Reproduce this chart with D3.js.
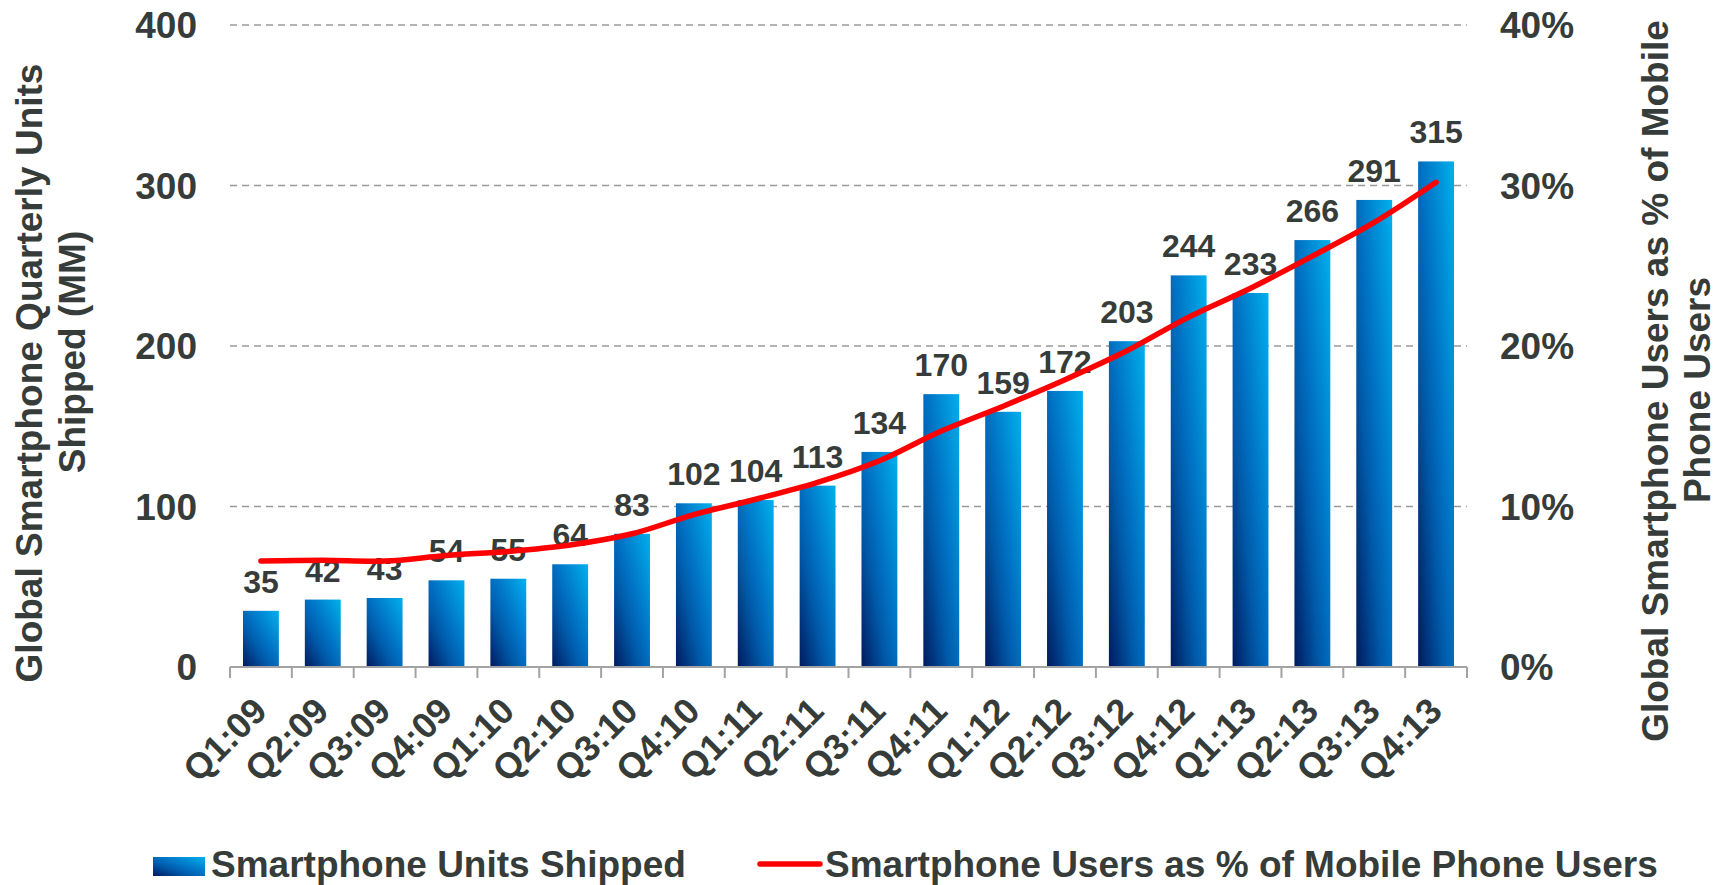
<!DOCTYPE html>
<meta charset="utf-8">
<style>
  body { margin: 0; background: #fff; }
  svg text { font-family: "Liberation Sans", Arial, sans-serif; font-weight: bold; fill: #363c39; }
</style>
<body>
  <svg width="1725" height="885"></svg>
</body>
<script src="https://cdnjs.cloudflare.com/ajax/libs/d3/7.8.5/d3.min.js"></script>
<script>

  // data
  var quarters = ["Q1:09", "Q2:09", "Q3:09", "Q4:09", "Q1:10", "Q2:10", "Q3:10", "Q4:10",
                  "Q1:11", "Q2:11", "Q3:11", "Q4:11", "Q1:12", "Q2:12", "Q3:12", "Q4:12",
                  "Q1:13", "Q2:13", "Q3:13", "Q4:13"];
  var unitsShipped = [35, 42, 43, 54, 55, 64, 83, 102, 104, 113, 134, 170, 159, 172, 203, 244, 233, 266, 291, 315];
  var userShare = [6.6, 6.65, 6.6, 6.95, 7.2, 7.6, 8.3, 9.5, 10.45, 11.5, 12.85, 14.7, 16.25, 17.9, 19.7, 21.8, 23.6, 25.6, 27.7, 30.2];
  var leftTicks = [0, 100, 200, 300, 400];
  var rightTicks = [0, 10, 20, 30, 40];

  var svg = d3.select("svg"),
      width = +svg.attr("width"),
      height = +svg.attr("height");

  var plot = { left: 230, right: 1467, top: 25, bottom: 667 };

  var x = d3.scaleBand()
      .domain(quarters)
      .range([plot.left, plot.right])
      .paddingInner(0.42)
      .paddingOuter(0.21);

  var y = d3.scaleLinear().domain([0, 400]).range([plot.bottom, plot.top]);
  var y2 = d3.scaleLinear().domain([0, 40]).range([plot.bottom, plot.top]);

  // diagonal gradient for the bars
  var defs = svg.append("defs");
  var grad = defs.append("linearGradient")
      .attr("id", "barGrad")
      .attr("x1", 0).attr("y1", 1)
      .attr("x2", 1).attr("y2", 0);
  grad.append("stop").attr("offset", "0%").attr("stop-color", "#001a5e");
  grad.append("stop").attr("offset", "35%").attr("stop-color", "#0059a8");
  grad.append("stop").attr("offset", "55%").attr("stop-color", "#0072c4");
  grad.append("stop").attr("offset", "100%").attr("stop-color", "#00b0ee");

  // gridlines
  svg.append("g")
    .selectAll("line")
    .data(leftTicks.filter(d => d > 0))
    .enter().append("line")
      .attr("x1", plot.left).attr("x2", plot.right)
      .attr("y1", d => y(d)).attr("y2", d => y(d))
      .attr("stroke", "#9a9a9a")
      .attr("stroke-width", 1.5)
      .attr("stroke-dasharray", "7,5");

  // bars
  svg.append("g")
    .selectAll("rect")
    .data(quarters)
    .enter().append("rect")
      .attr("x", d => x(d))
      .attr("width", x.bandwidth())
      .attr("y", (d, i) => y(unitsShipped[i]))
      .attr("height", (d, i) => y(0) - y(unitsShipped[i]))
      .attr("fill", "url(#barGrad)");

  // x axis: line and ticks at band edges
  var step = x.step();
  var xAxis = svg.append("g").attr("stroke", "#a3a3a3").attr("stroke-width", 2);
  xAxis.append("line")
      .attr("x1", plot.left).attr("x2", plot.right)
      .attr("y1", plot.bottom).attr("y2", plot.bottom);
  xAxis.selectAll(".tick")
    .data(d3.range(quarters.length + 1))
    .enter().append("line")
      .attr("x1", i => plot.left + i * step).attr("x2", i => plot.left + i * step)
      .attr("y1", plot.bottom).attr("y2", plot.bottom + 11);

  // x labels rotated
  svg.append("g")
    .selectAll("text")
    .data(quarters)
    .enter().append("text")
      .attr("transform", d => "translate(" + (x(d) + x.bandwidth() / 2 + 8) + "," + 713 + ") rotate(-45)")
      .attr("text-anchor", "end")
      .attr("font-size", 36)
      .text(d => d);

  // left tick labels
  svg.append("g")
    .selectAll("text")
    .data(leftTicks)
    .enter().append("text")
      .attr("x", 197)
      .attr("y", d => y(d))
      .attr("dy", "0.36em")
      .attr("text-anchor", "end")
      .attr("font-size", 37)
      .text(d => d);

  // right tick labels
  svg.append("g")
    .selectAll("text")
    .data(rightTicks)
    .enter().append("text")
      .attr("x", 1500)
      .attr("y", d => y2(d))
      .attr("dy", "0.36em")
      .attr("text-anchor", "start")
      .attr("font-size", 37)
      .text(d => d + "%");

  // bar value labels
  svg.append("g")
    .selectAll("text")
    .data(quarters)
    .enter().append("text")
      .attr("x", d => x(d) + x.bandwidth() / 2)
      .attr("y", (d, i) => y(unitsShipped[i]) - 18)
      .attr("text-anchor", "middle")
      .attr("font-size", 32)
      .text((d, i) => unitsShipped[i]);

  // red share line
  var line = d3.line()
      .x((d, i) => x(quarters[i]) + x.bandwidth() / 2)
      .y(d => y2(d))
      .curve(d3.curveCatmullRom.alpha(0.5));

  svg.append("path")
      .datum(userShare)
      .attr("d", line)
      .attr("fill", "none")
      .attr("stroke", "#ff0000")
      .attr("stroke-width", 5.5)
      .attr("stroke-linecap", "round")
      .attr("stroke-linejoin", "round");

  // axis titles
  var leftTitle = svg.append("g").attr("font-size", 37);
  leftTitle.append("text")
      .attr("transform", "translate(42,373) rotate(-90)")
      .attr("text-anchor", "middle")
      .text("Global Smartphone Quarterly Units");
  leftTitle.append("text")
      .attr("transform", "translate(85,352) rotate(-90)")
      .attr("text-anchor", "middle")
      .text("Shipped (MM)");

  var rightTitle = svg.append("g").attr("font-size", 37);
  rightTitle.append("text")
      .attr("transform", "translate(1668,381) rotate(-90)")
      .attr("text-anchor", "middle")
      .text("Global Smartphone Users as % of Mobile");
  rightTitle.append("text")
      .attr("transform", "translate(1710,390) rotate(-90)")
      .attr("text-anchor", "middle")
      .text("Phone Users");

  // legend
  var legend = svg.append("g");
  legend.append("rect")
      .attr("x", 153).attr("y", 857)
      .attr("width", 52).attr("height", 19)
      .attr("fill", "url(#barGrad)");
  legend.append("text")
      .attr("x", 211).attr("y", 877)
      .attr("font-size", 37)
      .text("Smartphone Units Shipped");
  legend.append("line")
      .attr("x1", 760).attr("x2", 820)
      .attr("y1", 864).attr("y2", 864)
      .attr("stroke", "#ff0000")
      .attr("stroke-width", 5.5)
      .attr("stroke-linecap", "round");
  legend.append("text")
      .attr("x", 825).attr("y", 877)
      .attr("font-size", 37)
      .text("Smartphone Users as % of Mobile Phone Users");

</script>
